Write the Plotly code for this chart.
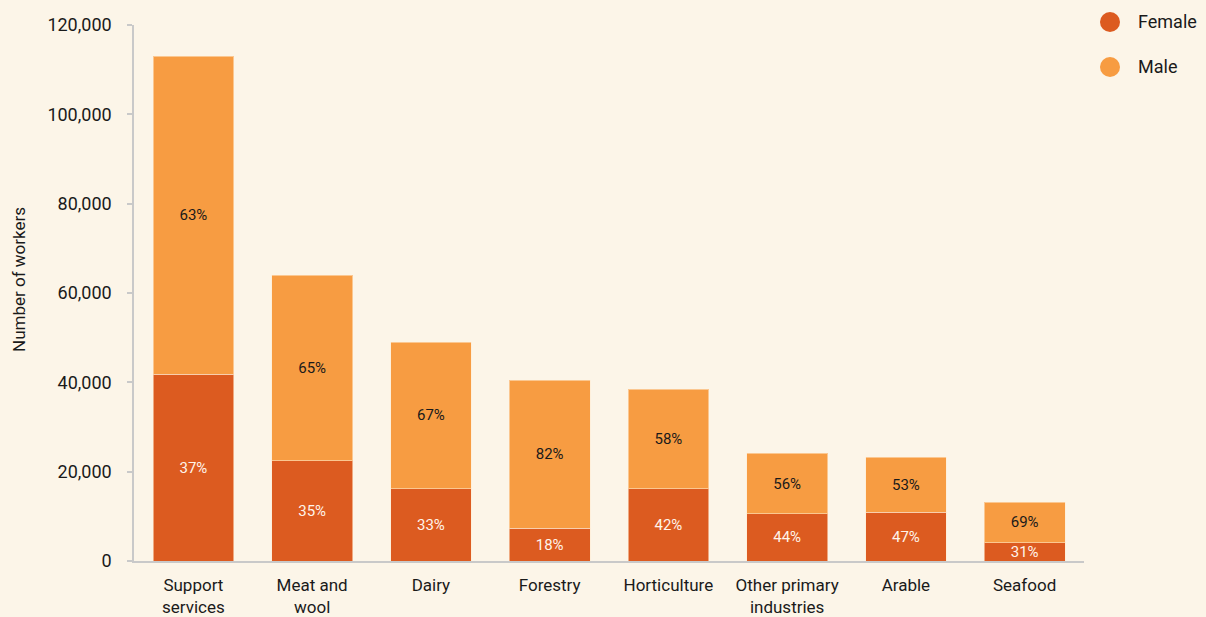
import plotly.graph_objects as go

# Workforce by sector, split by gender
categories = ["Support<br>services", "Meat and<br>wool", "Dairy", "Forestry",
              "Horticulture", "Other primary<br>industries", "Arable", "Seafood"]
female = [41800, 22400, 16200, 7300, 16200, 10600, 10900, 4100]
male = [71200, 41600, 32800, 33200, 22300, 13500, 12300, 9100]

y_ticks = [0, 20000, 40000, 60000, 80000, 100000, 120000]
y_tick_text = ["0", "20,000", "40,000", "60,000", "80,000", "100,000", "120,000"]

FEMALE_COLOR = "#DC5B20"
MALE_COLOR = "#F79C42"
BG = "#FCF5E8"
FONT = "Roboto"

totals = [f + m for f, m in zip(female, male)]
female_pct = [f"{round(100 * f / t)}%" for f, t in zip(female, totals)]
male_pct = [f"{round(100 * m / t)}%" for m, t in zip(male, totals)]

fig = go.Figure()
fig.add_trace(go.Bar(
    x=categories, y=female, name="Female",
    marker=dict(color=FEMALE_COLOR, line=dict(color="rgba(255,235,210,0.55)", width=1)),
    text=female_pct, textposition="inside", insidetextanchor="middle",
    constraintext="none", cliponaxis=False,
    textfont=dict(family=FONT, size=15, color="#FFF4EA"),
    showlegend=False, hoverinfo="skip",
))
fig.add_trace(go.Bar(
    x=categories, y=male, name="Male",
    marker=dict(color=MALE_COLOR, line=dict(color="rgba(255,235,210,0.55)", width=1)),
    text=male_pct, textposition="inside", insidetextanchor="middle",
    constraintext="none", cliponaxis=False,
    textfont=dict(family=FONT, size=15, color="#1A1A1A"),
    showlegend=False, hoverinfo="skip",
))

# Legend drawn as circles with labels in the top-right corner
legend_items = [("Female", FEMALE_COLOR, 22), ("Male", MALE_COLOR, 67)]
shapes = []
annotations = []
for label, color, ypx in legend_items:
    shapes.append(dict(
        type="circle", xref="paper", yref="paper", layer="above",
        x0=(1100 - 134) / 950, x1=(1120 - 134) / 950,
        y0=(561 - ypx - 10) / 536, y1=(561 - ypx + 10) / 536,
        fillcolor=color, line=dict(width=0),
    ))
    annotations.append(dict(
        text=label, xref="paper", yref="paper",
        x=(1136 - 134) / 950, y=(561 - ypx) / 536,
        xanchor="left", yanchor="middle", showarrow=False,
        font=dict(family=FONT, size=18, color="#1A1A1A"),
    ))

# Axis title placed by hand so the plot area keeps fixed margins
annotations.append(dict(
    text="Number of workers", xref="paper", yref="paper",
    x=-(134 - 19) / 950, y=(561 - 280) / 536, textangle=-90,
    xanchor="center", yanchor="middle", showarrow=False,
    font=dict(family=FONT, size=17, color="#1A1A1A"),
))

fig.update_layout(
    barmode="stack",
    bargap=0.32,
    width=1206, height=617,
    margin=dict(l=134, r=122, t=25, b=56),
    paper_bgcolor=BG, plot_bgcolor=BG,
    font=dict(family=FONT, color="#1A1A1A", size=17),
    shapes=shapes, annotations=annotations,
    xaxis=dict(
        showgrid=False, showline=True, linecolor="#C9C9C9", linewidth=1.5,
        ticks="", tickfont=dict(family=FONT, size=17, color="#1A1A1A"),
        ticklabelstandoff=8, range=[-0.5, 7.5], automargin=False,
    ),
    yaxis=dict(
        range=[0, 120000], tickvals=y_ticks, ticktext=y_tick_text,
        showgrid=False, zeroline=False, showline=True, linecolor="#C9C9C9", linewidth=1.5,
        ticks="outside", ticklen=5, tickcolor="#C9C9C9", tickwidth=1.5,
        tickfont=dict(family=FONT, size=18, color="#1A1A1A"),
        ticklabelstandoff=12, automargin=False,
    ),
)

fig.write_html("out.html")
